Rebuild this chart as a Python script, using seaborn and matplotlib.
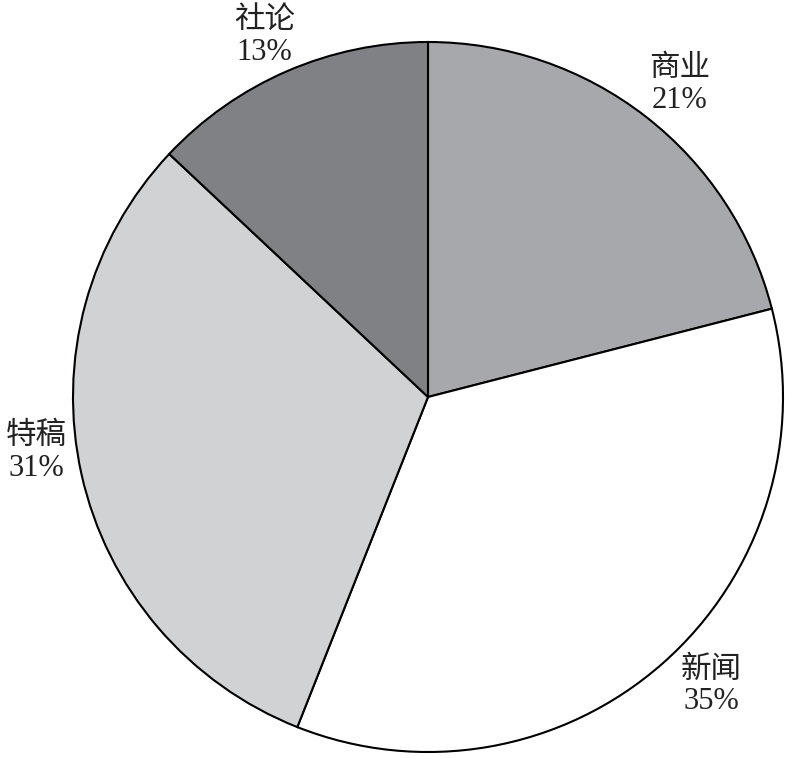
import matplotlib
matplotlib.use("Agg")
import matplotlib.pyplot as plt
import numpy as np
import seaborn as sns

# share of each article type, clockwise from 12 o'clock
categories = ["商业", "新闻", "特稿", "社论"]
shares = [21, 35, 31, 13]
slice_colors = ["#a7a8ab", "#ffffff", "#d1d2d4", "#808185"]

sns.set_theme(style="white")
plt.rcParams['font.family'] = ['Liberation Serif', 'Noto Sans CJK SC', 'DejaVu Sans']

fig = plt.figure(figsize=(7.85, 7.58), dpi=100)
# pie centre at (428, 397) px, radius 355 px
ax = fig.add_axes([(428 - 355) / 785, (758 - 397 - 355) / 758, 710 / 785, 710 / 758])

labels = [f"{c}\n{s}%" for c, s in zip(categories, shares)]
wedges, texts = ax.pie(shares, labels=labels, colors=slice_colors,
                       startangle=90, counterclock=False, radius=1.0,
                       labeldistance=1.13,
                       wedgeprops=dict(edgecolor="black", linewidth=1.5),
                       textprops=dict(fontsize=22, color="#222222", linespacing=1.12))

# small angular nudges so the labels sit where the original put them
nudge = [-1, 3, -4.5, 1]
dist = [1.13, 1.14, 1.115, 1.115]
for t, w, d, r in zip(texts, wedges, nudge, dist):
    mid = np.deg2rad((w.theta1 + w.theta2) / 2 + d)
    t.set_position((r * np.cos(mid), r * np.sin(mid)))
    t.set_horizontalalignment("center")
    t.set_verticalalignment("center")

ax.set_xlim(-1, 1)
ax.set_ylim(-1, 1)
ax.set_aspect("equal")
ax.axis("off")

fig.savefig("out.png", dpi=100)
